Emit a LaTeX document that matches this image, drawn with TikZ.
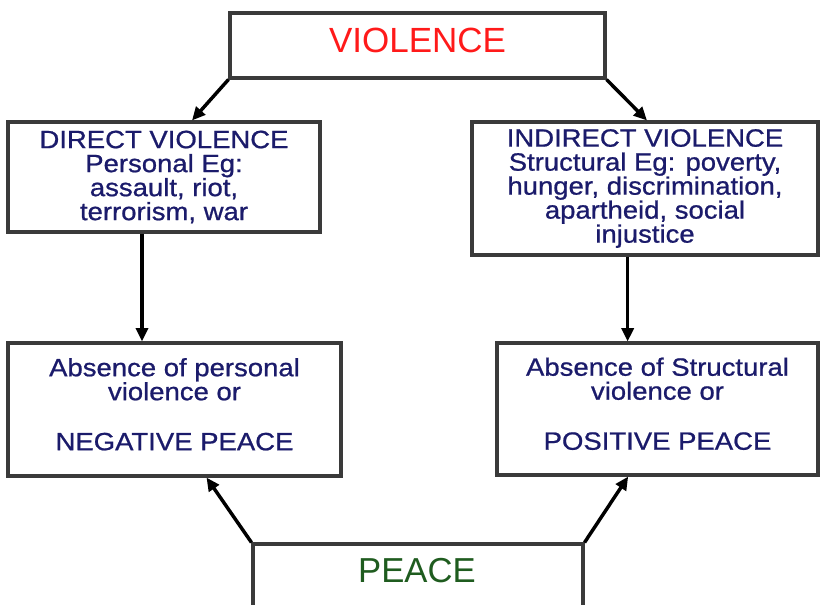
\documentclass[tikz,border=0pt]{standalone}
\usepackage{fontspec}
\setmainfont{Liberation Sans}
\newfontfamily\boxfont{Liberation Sans}[FakeStretch=1.1, FakeBold=0.8]
\usetikzlibrary{arrows.meta}
\definecolor{deep-navy}{HTML}{1B1B6B}
\definecolor{alarm-red}{HTML}{FF1A1A}
\definecolor{calm-green}{HTML}{1F5C1F}
\definecolor{edge-grey}{HTML}{3A3A3A}

\begin{document}
\begin{tikzpicture}[x=0.75pt, y=-0.75pt,
      box/.style={draw=edge-grey, line width=2.3pt, fill=white, align=center,
                  inner sep=0pt, text=deep-navy,
                  font=\boxfont\fontsize{18.75pt}{18pt}\selectfont},
      arr/.style={line width=2.6pt, -{Triangle[length=10pt, width=9pt]}}]
    \useasboundingbox (0,0) rectangle (820,605);
    \node[box, minimum width=281.25pt, minimum height=48.75pt, text=alarm-red, text depth=7.5pt,
          font=\fontsize{26.25pt}{30pt}\selectfont] (violence) at (417.5,45.5) {VIOLENCE};
    \node[box, minimum width=234pt, minimum height=82.5pt] (direct) at (164,177)
          {DIRECT VIOLENCE\\Personal Eg:\\assault, riot,\\terrorism, war};
    \node[box, minimum width=259.5pt, minimum height=99.75pt] (indirect) at (645,188.5)
          {INDIRECT VIOLENCE\\Structural Eg: poverty,\\hunger, discrimination,\\apartheid, social\\injustice};
    \node[box, minimum width=249.75pt, minimum height=99.75pt, text depth=8pt] (negative) at (174.5,409.5)
          {Absence of personal\\violence or\\[19.5pt]NEGATIVE PEACE};
    \node[box, minimum width=240.75pt, minimum height=99pt, text depth=8pt] (positive) at (657.5,409)
          {Absence of Structural\\violence or\\[19.5pt]POSITIVE PEACE};
    \node[box, minimum width=247.5pt, minimum height=79.5pt] (peace) at (418,597) {};
    \node[text=calm-green, font=\fontsize{26pt}{30pt}\selectfont] (peacetext) at (417,571) {PEACE};
    \draw[arr] (violence.south west) -- ([xshift=21pt]direct.north);
    \draw[arr] (violence.south east) -- ([xshift=1.5pt]indirect.north);
    \draw[arr] ([xshift=-16.5pt]direct.south) -- ([xshift=-16.5pt]direct.south |- negative.north);
    \draw[arr] ([xshift=-13pt]indirect.south) -- ([xshift=-13pt]indirect.south |- positive.north);
    \draw[arr] (peace.north west) -- ([xshift=24pt]negative.south);
    \draw[arr] (peace.north east) -- ([xshift=-22pt]positive.south);
\end{tikzpicture}
\end{document}
